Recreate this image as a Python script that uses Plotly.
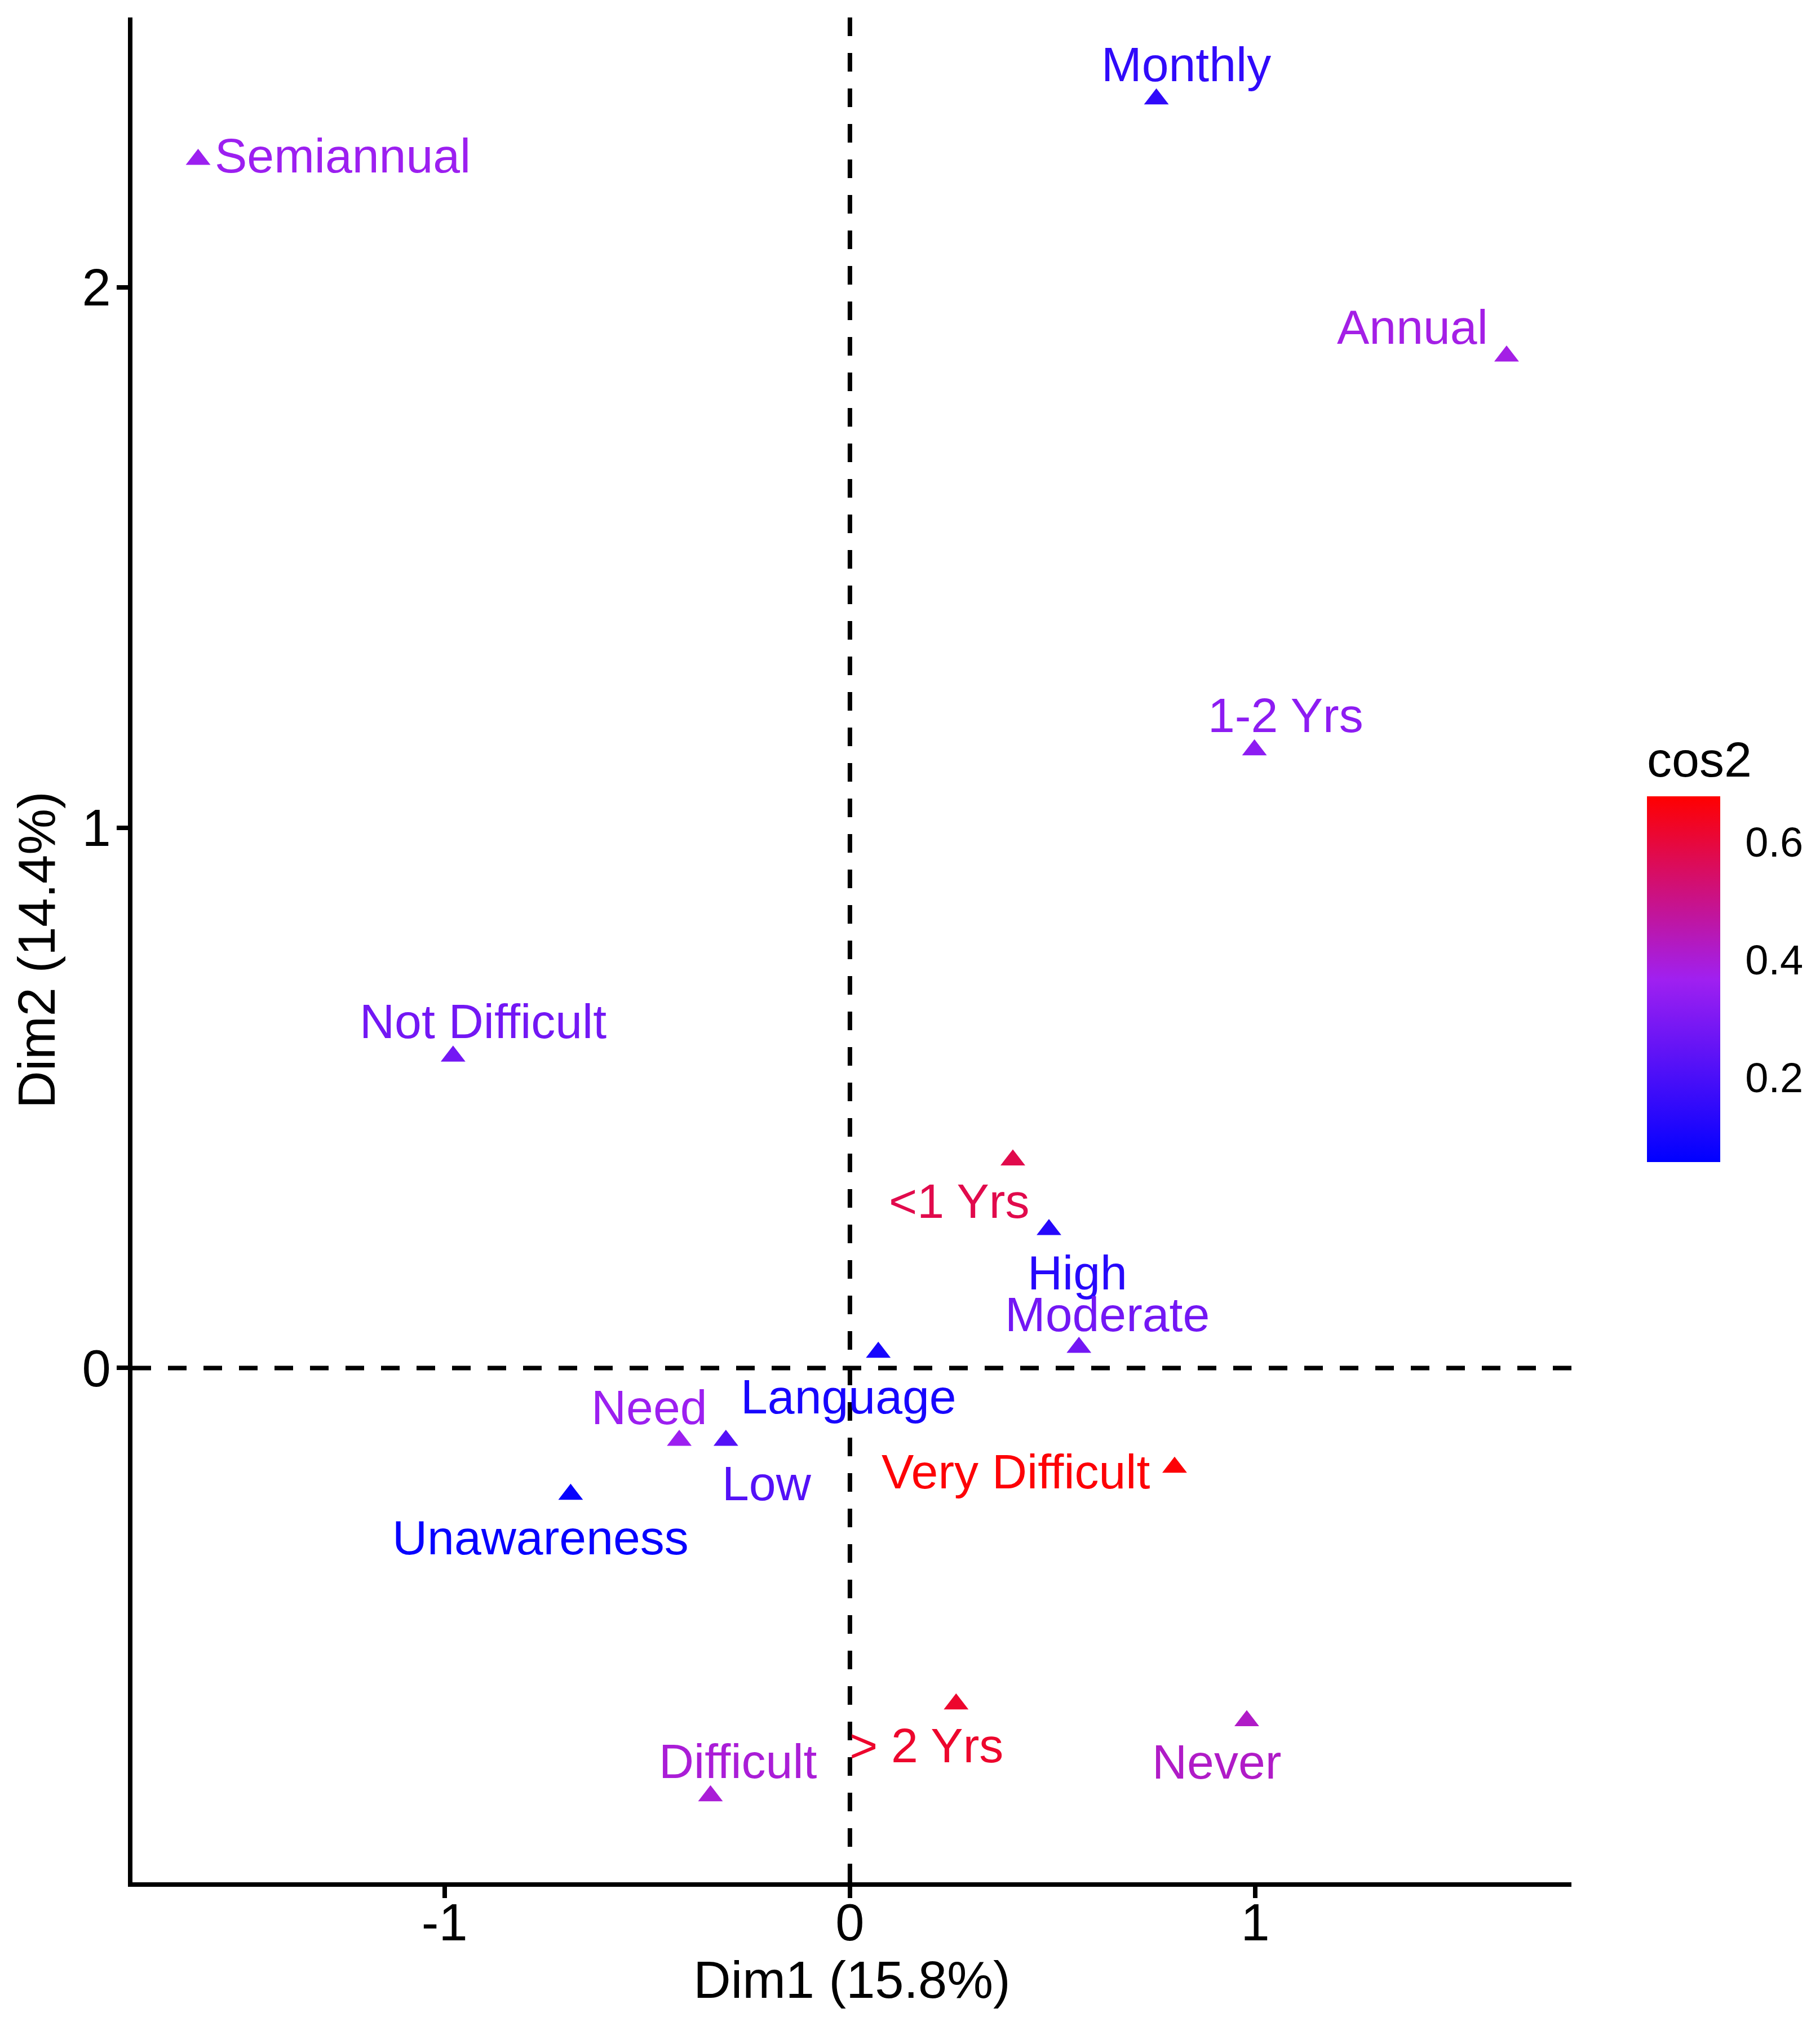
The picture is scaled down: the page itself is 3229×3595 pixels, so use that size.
import plotly.graph_objects as go
from plotly.colors import sample_colorscale

# ---- data ----
categories = ["Semiannual", "Monthly", "Annual", "1-2 Yrs", "Not Difficult", "<1 Yrs",
              "High", "Moderate", "Language", "Need", "Low", "Unawareness",
              "Very Difficult", "> 2 Yrs", "Never", "Difficult"]
dim1 = [-1.608, 0.756, 1.620, 0.998, -0.979, 0.402, 0.491, 0.565, 0.070, -0.421,
        -0.306, -0.689, 0.801, 0.262, 0.979, -0.344]
dim2 = [2.237, 2.349, 1.873, 1.144, 0.577, 0.385, 0.256, 0.038, 0.029, -0.134,
        -0.134, -0.234, -0.184, -0.622, -0.653, -0.792]
cos2 = [0.36, 0.15, 0.38, 0.33, 0.28, 0.58, 0.13, 0.28, 0.10, 0.36,
        0.22, 0.07, 0.67, 0.62, 0.42, 0.40]
x_ticks = [-1, 0, 1]
y_ticks = [0, 1, 2]
cbar_ticks = [0.2, 0.4, 0.6]

# ---- styles ----
cmin, cmax = 0.056, 0.678
colorscale = [[0.0, "rgb(0,0,255)"], [0.5, "rgb(160,32,240)"], [1.0, "rgb(255,0,0)"]]
label_shift = {
    "Semiannual": (256, 7), "Monthly": (53, 62), "Annual": (-167, 52),
    "1-2 Yrs": (55, 62), "Not Difficult": (53, 62), "<1 Yrs": (-96, -73),
    "High": (50, -76), "Moderate": (50, 59), "Language": (-53, -78),
    "Need": (-53, 59), "Low": (73, -76), "Unawareness": (-53, -76),
    "Very Difficult": (-282, -7), "> 2 Yrs": (-53, -73), "Never": (-53, -73),
    "Difficult": (48, 62),
}
FONT = "Liberation Sans, Arial, sans-serif"

fig = go.Figure()
fig.add_trace(go.Scatter(
    x=dim1, y=dim2, mode="markers",
    marker=dict(symbol="triangle-up", size=38, color=cos2, cmin=cmin, cmax=cmax,
                colorscale=colorscale, line=dict(width=0),
                colorbar=dict(
                    title=dict(text="cos2", side="top", font=dict(size=88, color="black", family=FONT)),
                    thickness=130, thicknessmode="pixels",
                    len=773, lenmode="pixels",
                    x=1.0486, xanchor="left", y=0.3832, yanchor="bottom",
                    tickvals=cbar_ticks, ticktext=[f"{v:.1f}" for v in cbar_ticks],
                    ticks="outside", ticklen=30, tickcolor="white",
                    tickfont=dict(size=74, color="black", family=FONT),
                    outlinewidth=0,
                )),
    showlegend=False, hoverinfo="text", text=categories,
))

norm = [(c - cmin) / (cmax - cmin) for c in cos2]
label_colors = sample_colorscale(colorscale, norm)
for name, xv, yv, col in zip(categories, dim1, dim2, label_colors):
    dx, dy = label_shift[name]
    fig.add_annotation(x=xv, y=yv, text=name, showarrow=False, xshift=dx, yshift=dy,
                       font=dict(size=86, color=col, family=FONT))

# reference lines at zero
fig.add_hline(y=0, line=dict(color="black", width=8, dash="33px,30px"))
fig.add_vline(x=0, line=dict(color="black", width=8, dash="33px,30px"))

axis_common = dict(showgrid=False, zeroline=False, showline=True, linecolor="black", linewidth=8,
                   ticks="outside", ticklen=20, tickwidth=8, tickcolor="black",
                   tickfont=dict(size=92, color="black"))

fig.update_layout(
    width=3229, height=3595,
    margin=dict(l=227, r=449, t=23, b=263, autoexpand=False),
    paper_bgcolor="white", plot_bgcolor="white",
    font=dict(family=FONT, color="black"),
    xaxis=dict(range=[-1.77, 1.78], tickvals=x_ticks, ticktext=[str(v) for v in x_ticks],
               title=dict(text="Dim1 (15.8%)", font=dict(size=92, color="black"), standoff=0),
               ticklabelstandoff=-35, **axis_common),
    yaxis=dict(range=[-0.952, 2.50], tickvals=y_ticks, ticktext=[str(v) for v in y_ticks],
               title=dict(text="Dim2 (14.4%)", font=dict(size=92, color="black"), standoff=20),
               ticklabelstandoff=-8, **axis_common),
)

fig.write_html("out.html")
